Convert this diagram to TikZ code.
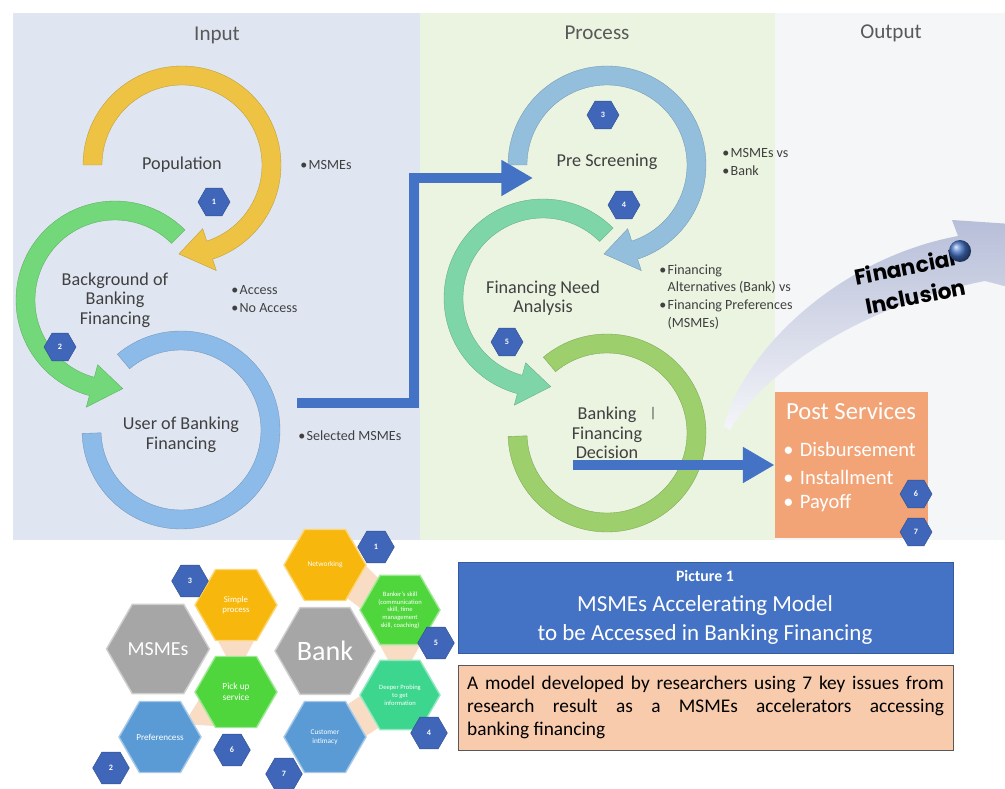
\documentclass[tikz,border=0pt]{standalone}
\usepackage{fontspec}
\setmainfont{Carlito}
\newfontfamily\inclfont{Poppins}
\usetikzlibrary{shapes.geometric,arrows.meta}

\definecolor{inputbg}{HTML}{DFE6F1}
\definecolor{processbg}{HTML}{EBF4E1}
\definecolor{outputbg}{HTML}{F5F6F8}
\definecolor{ringyellow}{HTML}{EEC343}
\definecolor{ringgreen}{HTML}{72D879}
\definecolor{ringblue}{HTML}{8DBBE9}
\definecolor{ringsteel}{HTML}{93BFDD}
\definecolor{ringmint}{HTML}{7ED6A8}
\definecolor{ringlime}{HTML}{9DCF6C}
\definecolor{flowblue}{HTML}{4472C4}
\definecolor{badgeblue}{HTML}{3F66B8}
\definecolor{postorange}{HTML}{F2A477}
\definecolor{notepeach}{HTML}{F8CBAD}
\definecolor{hexgray}{HTML}{A6A6A6}
\definecolor{hexyellow}{HTML}{F8B70C}
\definecolor{hexgreen}{HTML}{4FD63C}
\definecolor{hexteal}{HTML}{3DD68E}
\definecolor{hexblue}{HTML}{5B9BD5}
\definecolor{wedge}{HTML}{F9DCC4}
\definecolor{labelgray}{HTML}{404040}
\definecolor{titlegray}{HTML}{595959}
\definecolor{swoosh}{HTML}{B7BED8}

% circular arrow: centre, start angle, end angle, tip angle, colour
\newcommand{\ringarrow}[5]{%
  \fill[#5, draw=#5!80!black, line width=0.3pt, shift={(#1)}]
    (#2:99) arc[start angle=#2, end angle=#3, radius=99]
    -- (#3:111) -- (#4:89) -- (#3:67) -- (#3:80)
    arc[start angle=#3, end angle=#2, radius=80] -- cycle;}
% open ring without head: centre, start angle, end angle, colour
\newcommand{\ringopen}[4]{%
  \fill[#4, draw=#4!80!black, line width=0.3pt, shift={(#1)}]
    (#2:99) arc[start angle=#2, end angle=#3, radius=99]
    -- (#3:80) arc[start angle=#3, end angle=#2, radius=80] -- cycle;}
\newcommand{\ppbullet}{\makebox[7pt][l]{\textbullet}}
\newcommand{\ppindent}{\hspace*{7pt}}
\newcommand{\postbullet}{\makebox[14pt][l]{\textbullet}}

\tikzset{
  coltitle/.style={text=titlegray, font=\fontsize{18}{20}\selectfont},
  ringlabel/.style={text=labelgray, align=center, font=\fontsize{15.5}{16.5}\selectfont},
  bulletlist/.style={text=labelgray, align=left, anchor=west, inner sep=0pt,
    font=\fontsize{12}{15.2}\selectfont},
  badge/.style={regular polygon, regular polygon sides=6, minimum size=0.96cm,
    inner sep=0pt, fill=badgeblue, draw=badgeblue!80!black, line width=0.4pt,
    text=white, font=\bfseries\fontsize{7}{8}\selectfont},
  flowarrow/.style={flowblue, line width=3mm, line join=miter,
    -{Triangle[length=0.95cm, width=1.02cm]}},
  hexa/.style={regular polygon, regular polygon sides=6, inner sep=0pt,
    fill=#1, draw=#1!55!white, line width=1.2pt, text=white, align=center},
}

\begin{document}
\begin{tikzpicture}[thick, x=0.3mm, y=0.3mm]
\useasboundingbox (0,0) rectangle (1005,788);

% panels
\fill[inputbg] (13,248) rectangle (420,775);
\fill[processbg] (420,248) rectangle (775,775);
\fill[outputbg] (775,248) rectangle (1005,775);
\node[coltitle] (tin) at (217,753) {Input};
\node[coltitle] (tproc) at (597,755) {Process};
\node[coltitle] (tout) at (891,755) {Output};

% ring centres
\coordinate (cpop) at (182,623);
\coordinate (cback) at (115,488);
\coordinate (cuser) at (181,358);
\coordinate (cscreen) at (607,623);
\coordinate (cneed) at (543,490);
\coordinate (cdecide) at (607,355);

% input rings
\ringopen{cuser}{130}{-178}{ringblue}
\ringarrow{cback}{45}{255}{275}{ringgreen}
\ringarrow{cpop}{180}{-72}{-92}{ringyellow}
% process rings
\ringopen{cdecide}{130}{-178}{ringlime}
\ringarrow{cneed}{45}{255}{275}{ringmint}
\ringarrow{cscreen}{180}{-72}{-92}{ringsteel}

\node[ringlabel] (pop) at (cpop) {Population};
\node[ringlabel] (back) at (cback) {Background of\\Banking\\Financing};
\node[ringlabel] (user) at ([yshift=-4]cuser) {User of Banking\\Financing};
\node[ringlabel] (screen) at ([yshift=3]cscreen) {Pre Screening};
\node[ringlabel] (need) at (cneed) {Financing Need\\Analysis};
\node[ringlabel] (decide) at (cdecide) {Banking\\Financing\\Decision};
\node[text=labelgray, font=\fontsize{12}{12}\selectfont] (cursor) at (653,374) {|};

% bullets
\node[bulletlist] (bpop) at (300,623) {\ppbullet MSMEs};
\node[bulletlist] (bback) at (231,489) {\ppbullet Access\\\ppbullet No Access};
\node[bulletlist] (buser) at (298,352) {\ppbullet Selected MSMEs};
\node[bulletlist] (bscreen) at (722,626) {\ppbullet MSMEs vs\\\ppbullet Bank};
\node[bulletlist] (bneed) at (659,491) {\ppbullet Financing\\\ppindent Alternatives (Bank) vs\\
  \ppbullet Financing Preferences\\\ppindent (MSMEs)};

% step badges
\node[badge] (s1) at (214,586) {1};
\node[badge] (s2) at (60,441) {2};
\node[badge] (s3) at (603,673) {3};
\node[badge] (s4) at (624,583) {4};
\node[badge] (s5) at (507,446) {5};

% financial inclusion
\begin{scope}
\clip (0,0) rectangle (1005,788);
\shade[top color=swoosh, bottom color=swoosh!15!white]
  (724,362) .. controls (745,440) and (840,530) .. (958,552) -- (952,568)
  -- (1100,558) -- (1012,500) -- (985,507)
  .. controls (870,485) and (765,420) .. (730,358) -- cycle;
\end{scope}
\node[rotate=11, align=center, inner sep=0pt,
  font=\inclfont\bfseries\fontsize{18.5}{26}\selectfont] (incl) at (908,506) {Financial\\\hspace*{8pt}Inclusion};
\shade[ball color=flowblue] (960,537) circle (11);

% post services
\node[fill=postorange, minimum width=4.59cm, minimum height=4.38cm] (post) at (851.5,323) {};
\node[text=white, font=\fontsize{21}{24}\selectfont] (posttitle) at (851,377) {Post Services};
\node[anchor=west, inner sep=0pt, text=white, font=\fontsize{17.5}{20}\selectfont] (p1) at (783,339) {\postbullet Disbursement};
\node[anchor=west, inner sep=0pt, text=white, font=\fontsize{17.5}{20}\selectfont] (p2) at (783,311) {\postbullet Installment};
\node[anchor=west, inner sep=0pt, text=white, font=\fontsize{17.5}{20}\selectfont] (p3) at (783,285) {\postbullet Payoff};
\node[badge] (s6) at (916,294) {6};
\node[badge] (s7) at (916,256) {7};

% connectors
\coordinate (selout) at (297,385);
\coordinate (bend) at (414,610);
\coordinate (screenin) at (533,610);
\draw[flowarrow] (selout) -| (bend) -- (screenin);
\coordinate (decout) at (573,323);
\draw[flowarrow] (decout) -- (post.west);

% hexagon cluster
\fill[wedge] (218,147) -- (254,147) -- (246,132) -- (226,132) -- cycle;
\fill[wedge] (200,90) -- (214,62) -- (184,64) -- cycle;
\fill[wedge] (366,222) -- (378,210) -- (360,180) -- (347,190) -- cycle;
\fill[wedge] (380,143) -- (420,143) -- (412,128) -- (388,128) -- cycle;
\fill[wedge] (360,92) -- (378,60) -- (366,52) -- (348,84) -- cycle;
\node[hexa=hexgray, minimum size=3.09cm, font=\fontsize{17}{20}\selectfont] (msmes) at (158,139) {MSMEs};
\node[hexa=hexgray, minimum size=3cm, font=\fontsize{24}{28}\selectfont] (bank) at (325,137) {Bank};
\node[hexa=hexyellow, minimum size=2.46cm, font=\fontsize{7.5}{9}\selectfont] (simple) at (236,183) {Simple\\process};
\node[hexa=hexgreen, minimum size=2.46cm, font=\fontsize{8}{9.5}\selectfont] (pickup) at (236,96) {Pick up\\service};
\node[hexa=hexblue, minimum size=2.46cm, font=\fontsize{7.8}{9}\selectfont] (pref) at (160,51) {Preferencess};
\node[hexa=hexyellow, minimum size=2.46cm, font=\fontsize{6.3}{7.5}\selectfont] (network) at (325,223) {Networking};
\node[hexa=hexgreen, minimum size=2.4cm, font=\fontsize{5.6}{6.6}\selectfont] (skill) at (400,178) {Banker's skill\\(communication\\skill, time\\management\\skill, coaching)};
\node[hexa=hexteal, minimum size=2.4cm, font=\fontsize{5.6}{6.8}\selectfont] (probe) at (400,93) {Deeper Probing\\to get\\information};
\node[hexa=hexblue, minimum size=2.46cm, font=\fontsize{6.2}{7.4}\selectfont] (intimacy) at (325,51) {Customer\\intimacy};
\node[badge, minimum size=1.1cm] (k1) at (376,241) {1};
\node[badge, minimum size=1.1cm] (k3) at (190,207) {3};
\node[badge, minimum size=1.1cm] (k5) at (436,145) {5};
\node[badge, minimum size=1.1cm] (k4) at (429,55) {4};
\node[badge, minimum size=1.1cm] (k6) at (232,38) {6};
\node[badge, minimum size=1.1cm] (k2) at (111,20) {2};
\node[badge, minimum size=1.1cm] (k7) at (284,14) {7};

% caption boxes
\node[fill=flowblue, draw=flowblue!80!black, line width=0.5pt, minimum width=14.85cm, minimum height=2.73cm] (titlebox) at (705.5,180.5) {};
\node[text=white, font=\bfseries\fontsize{13.5}{15}\selectfont] (cap1) at (705,212) {Picture 1};
\node[text=white, font=\fontsize{19.6}{22}\selectfont] (cap2) at (705,183) {MSMEs Accelerating Model};
\node[text=white, font=\fontsize{19.6}{22}\selectfont] (cap3) at (705,154) {to be Accessed in Banking Financing};
\node[fill=notepeach, draw=black!65, line width=0.6pt, text width=14.3cm, inner xsep=0.275cm,
  minimum height=2.55cm, align=justify, font=\fontsize{16.5}{19.6}\selectfont] (notebox) at (705.5,80.5)
  {\hyphenpenalty=10000 A model developed by researchers using 7 key issues from\linebreak
   research result as a MSMEs accelerators accessing\linebreak banking financing};

\end{tikzpicture}
\end{document}
